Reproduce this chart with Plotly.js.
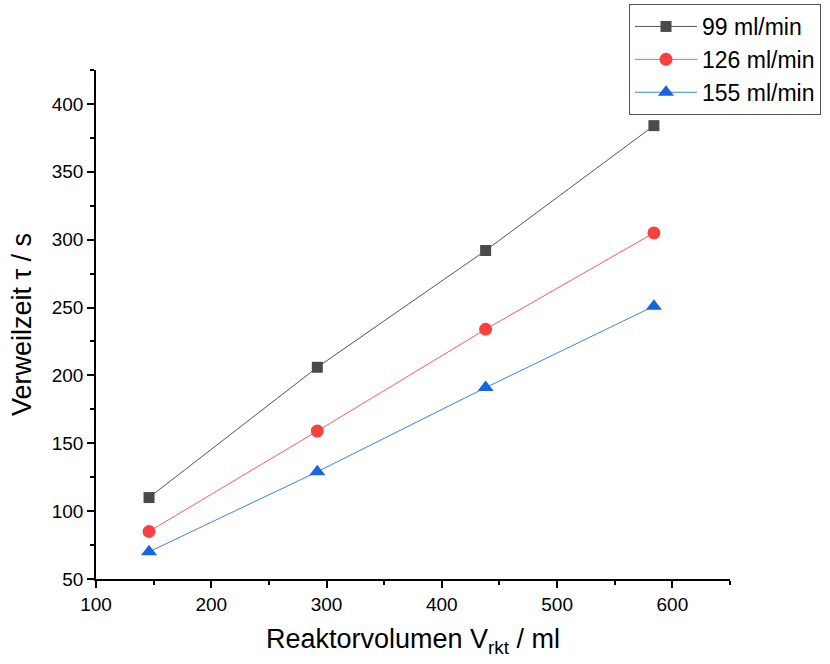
<!DOCTYPE html>
<html><head><meta charset="utf-8">
<script src="https://cdn.plot.ly/plotly-3.0.1.min.js"></script>
<style>body{margin:0;background:#fff}#c{width:830px;height:664px}</style>
</head><body><div id="c"></div>
<script>
const volumen = [146, 292, 438, 584];
const tau99 = [110, 206, 292, 384];
const tau126 = [85, 159, 234, 305];
const tau155 = [70, 129, 191, 251];
const names = ['99 ml/min', '126 ml/min', '155 ml/min'];

const traces = [
  {x: volumen, y: tau99, name: names[0], mode: 'lines+markers',
   line: {color: '#555555', width: 1}, marker: {symbol: 'square', size: 11, color: '#4a4a4a'}},
  {x: volumen, y: tau126, name: names[1], mode: 'lines+markers',
   line: {color: '#ff5a5a', width: 1}, marker: {symbol: 'circle', size: 13, color: '#f94141'}},
  {x: volumen, y: tau155, name: names[2], mode: 'lines+markers',
   line: {color: '#3d82e8', width: 1}, marker: {symbol: 'triangle-up', size: 14, color: '#1765e0'}}
];
const font = {family: 'Liberation Sans, Arial, sans-serif', color: '#000'};
const layout = {
  width: 830, height: 664,
  margin: {l: 96, r: 100, t: 70, b: 85, autoexpand: false},
  paper_bgcolor: '#fff', plot_bgcolor: '#fff',
  font: font,
  showlegend: true,
  legend: {xref: 'container', yref: 'container', x: 629/830, y: 1 - 4/664, xanchor: 'left', yanchor: 'top',
    bordercolor: '#555', borderwidth: 1, bgcolor: '#fff',
    font: {family: font.family, size: 23, color: '#000'}, tracegroupgap: 0, itemwidth: 62},
  xaxis: {range: [100, 650], dtick: 100, tick0: 100, showgrid: false, zeroline: false, automargin: false,
    showline: true, linecolor: '#000', linewidth: 1.5, ticks: 'outside', ticklen: 7, tickwidth: 1.5, tickcolor: '#000',
    minor: {dtick: 50, ticks: 'outside', ticklen: 4, tickwidth: 1.5, tickcolor: '#000', showgrid: false},
    tickfont: {size: 19, family: font.family},
    title: {text: 'Reaktorvolumen V<sub>rkt</sub> / ml', font: {size: 27, family: font.family}, standoff: 16}},
  yaxis: {range: [50, 425], dtick: 50, tick0: 50, showgrid: false, zeroline: false, automargin: false,
    showline: true, linecolor: '#000', linewidth: 1.5, ticks: 'outside', ticklen: 7, tickwidth: 1.5, tickcolor: '#000',
    minor: {dtick: 25, ticks: 'outside', ticklen: 4, tickwidth: 1.5, tickcolor: '#000', showgrid: false},
    tickfont: {size: 19, family: font.family},
    title: {text: 'Verweilzeit τ / s', font: {size: 27, family: font.family}, standoff: 12}}
};
Plotly.newPlot('c', traces, layout, {displayModeBar: false});
</script></body></html>
